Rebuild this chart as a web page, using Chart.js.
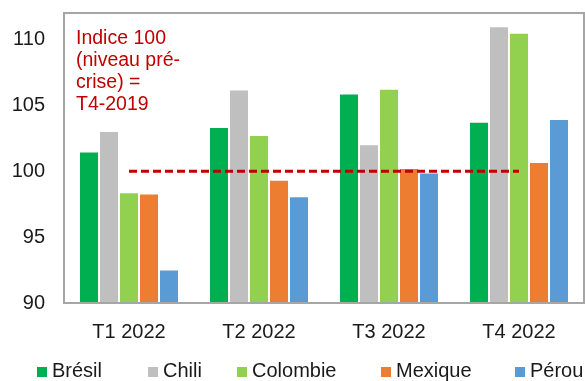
<!DOCTYPE html>
<html>
<head>
<meta charset="utf-8">
<script src="https://cdn.jsdelivr.net/npm/chart.js@4/dist/chart.umd.min.js"></script>
<style>
html,body{margin:0;padding:0;background:#fff;}
#wrap{position:relative;width:585px;height:381px;overflow:hidden;}
</style>
</head>
<body>
<div id="wrap"><canvas id="c" width="585" height="381"></canvas></div>
<script>
const categories = ['T1 2022', 'T2 2022', 'T3 2022', 'T4 2022'];
const seriesNames = ['Brésil', 'Chili', 'Colombie', 'Mexique', 'Pérou'];
const seriesColors = ['#00b050', '#bfbfbf', '#92d050', '#ed7d31', '#5b9bd5'];
const bresil   = [101.5, 103.35, 105.9, 103.75];
const chili    = [103.05, 106.2, 102.05, 111.0];
const colombie = [98.4, 102.75, 106.25, 110.5];
const mexique  = [98.3, 99.35, 100.25, 100.7];
const perou    = [92.55, 98.1, 99.9, 103.95];
const reference = [100, 100, 100, 100];
const yTicks = [90, 95, 100, 105, 110];
const annotationLines = ['Indice 100', '(niveau pré-', 'crise) =', 'T4-2019'];

const FONT = '"Liberation Sans", Arial, sans-serif';
const seriesValues = [bresil, chili, colombie, mexique, perou];

const framePlugin = {
  id: 'frame',
  afterDraw(chart) {
    const ctx = chart.ctx, a = chart.chartArea;
    ctx.save();
    ctx.strokeStyle = '#a6a6a6';
    ctx.lineWidth = 2;
    ctx.strokeRect(a.left, a.top, a.right - a.left, a.bottom - a.top);
    ctx.fillStyle = '#c00000';
    ctx.font = '19.5px ' + FONT;
    ctx.textAlign = 'left';
    ctx.textBaseline = 'alphabetic';
    annotationLines.forEach((t, i) => ctx.fillText(t, 76, 44 + i * 22));
    const xs = [37, 148, 237, 381, 515];
    ctx.font = '20px ' + FONT;
    ctx.textBaseline = 'middle';
    seriesNames.forEach((n, i) => {
      ctx.fillStyle = seriesColors[i];
      ctx.fillRect(xs[i], 367, 10, 10);
      ctx.fillStyle = '#1a1a1a';
      ctx.fillText(n, xs[i] + 15, 371);
    });
    ctx.restore();
  }
};

const datasets = seriesNames.map((n, i) => ({
  type: 'bar',
  label: n,
  data: seriesValues[i],
  backgroundColor: seriesColors[i],
  borderColor: 'rgba(255,255,255,0.45)',
  borderWidth: 1,
  barPercentage: 1,
  categoryPercentage: 100 / 130,
  order: 2
}));
datasets.push({
  type: 'line',
  label: 'Indice 100',
  data: reference,
  borderColor: '#c00000',
  borderWidth: 3,
  borderDash: [8, 4],
  pointRadius: 0,
  fill: false,
  order: 1
});

new Chart(document.getElementById('c'), {
  data: { labels: categories, datasets },
  options: {
    responsive: false,
    devicePixelRatio: 1,
    animation: false,
    layout: { padding: { left: 0, top: 13, right: 1, bottom: 0 } },
    plugins: { legend: { display: false }, tooltip: { enabled: false }, title: { display: false } },
    scales: {
      x: {
        grid: { display: false, drawTicks: false },
        border: { display: false },
        ticks: { color: '#1a1a1a', font: { family: FONT, size: 20 }, padding: 17, maxRotation: 0 },
        afterFit(s) { s.height = 78; s.paddingLeft = 0; s.paddingRight = 0; }
      },
      y: {
        min: 90, max: 112,
        grid: { display: false, drawTicks: false },
        border: { display: false },
        afterBuildTicks(s) { s.ticks = yTicks.map(v => ({ value: v })); },
        ticks: { color: '#1a1a1a', font: { family: FONT, size: 20 }, padding: 19 },
        afterFit(s) { s.width = 64; s.paddingTop = 0; s.paddingBottom = 0; }
      }
    }
  },
  plugins: [framePlugin]
});
</script>
</body>
</html>
